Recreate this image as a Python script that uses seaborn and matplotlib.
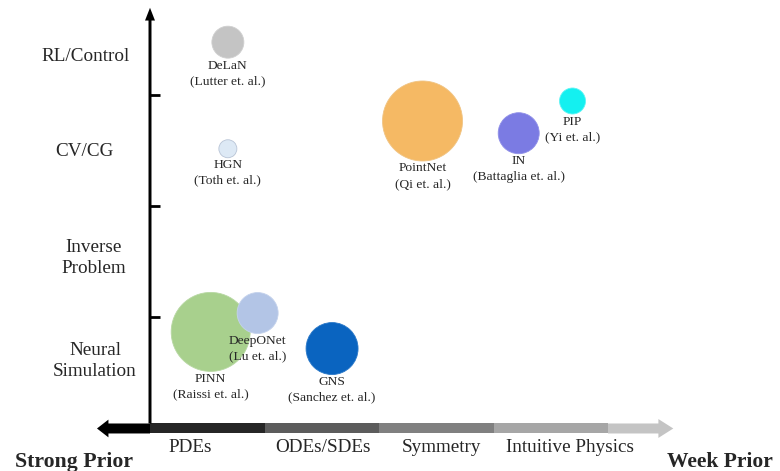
import pandas as pd
import matplotlib.pyplot as plt
from matplotlib.patches import FancyArrow
import seaborn as sns

sns.set_style("white")
plt.rcParams['font.family'] = ['Liberation Serif', 'DejaVu Serif']

# ===============================
# data
# ===============================
models = ["DeLaN", "HGN", "PointNet", "IN", "PIP", "PINN", "DeepONet", "GNS"]
authors = ["(Lutter et. al.)", "(Toth et. al.)", "(Qi et. al.)", "(Battaglia et. al.)",
           "(Yi et. al.)", "(Raissi et. al.)", "(Lu et. al.)", "(Sanchez et. al.)"]
prior_x = [0.68, 0.68, 2.38, 3.22, 3.69, 0.53, 0.94, 1.59]
field_y = [3.48, 2.52, 2.77, 2.66, 2.95, 0.87, 1.04, 0.72]
bubble_r = [16, 9, 40, 20.5, 13, 39.5, 20.5, 26]
bubble_colors = ["#c4c4c4", "#dde9f5", "#f5b964", "#7b7be3",
                 "#14f0f0", "#a8d08d", "#b3c5e6", "#0a64c0"]

fields = ["Neural\nSimulation", "Inverse\nProblem", "CV/CG", "RL/Control"]
priors = ["PDEs", "ODEs/SDEs", "Symmetry", "Intuitive Physics"]
prior_colors = ["#262626", "#5c5c5c", "#808080", "#a6a6a6"]

df = pd.DataFrame({"model": models, "author": authors, "x": prior_x,
                   "y": field_y, "r": bubble_r})
# radius (px) -> marker area (pt^2)
df["area"] = (2 * df["r"] * 0.72) ** 2

fig = plt.figure(figsize=(7.8, 4.71), dpi=100)
ax = fig.add_axes([0, 0, 1, 1])
ax.set_xlim(-1.310, 5.502)
ax.set_ylim(-0.383, 3.860)
ax.axis("off")

# ===============================
# prior bar (x axis)
# ===============================
for i, c in enumerate(prior_colors):
    ax.barh(0, 1, left=i, height=0.09, color=c, linewidth=0, zorder=2)
ax.add_patch(FancyArrow(0, 0, -0.463, 0, width=0.09, head_width=0.16,
                        head_length=0.1, length_includes_head=True,
                        color="black", lw=0, zorder=2))
ax.add_patch(FancyArrow(4, 0, 0.57, 0, width=0.09, head_width=0.17,
                        head_length=0.13, length_includes_head=True,
                        color="#c4c4c4", lw=0, zorder=2))

# vertical axis
ax.add_patch(FancyArrow(0, 0.045, 0, 3.745, width=0.026, head_width=0.087,
                        head_length=0.115, length_includes_head=True,
                        color="black", lw=0, zorder=3))
for k in [1, 2, 3]:
    ax.plot([0, 0.087], [k, k], color="black", lw=2, solid_capstyle="butt")

# category labels
field_pos = [(-0.48, 0.608), (-0.489, 1.536), (-0.576, 2.495), (-0.559, 3.355)]
for name, (fx, fy) in zip(fields, field_pos):
    ax.text(fx, fy, name, ha="center", va="center", fontsize=13.8, linespacing=1.25)

prior_pos = [0.349, 1.507, 2.55, 3.668]
for name, px in zip(priors, prior_pos):
    ax.text(px, -0.212, name, ha="center", va="baseline", fontsize=13.8)

ax.text(-1.179, -0.347, "Strong Prior", ha="left", va="baseline",
        fontsize=15.7, fontweight="bold")
ax.text(4.515, -0.347, "Week Prior", ha="left", va="baseline",
        fontsize=15.5, fontweight="bold")

# ===============================
# bubbles
# ===============================
edge = ["#d0d0d0", "#b8c4d6", "#f0c484", "#9090e8",
        "#60f4f4", "#b8d8a4", "#c4d2ec", "#2a78c8"]
sns.scatterplot(data=df, x="x", y="y", hue="model", palette=dict(zip(models, bubble_colors)),
                size="area", sizes=(df["area"].min(), df["area"].max()),
                edgecolor=edge, linewidth=0.6, alpha=1, legend=False, ax=ax, zorder=4)
ax.set_xlim(-1.310, 5.502)
ax.set_ylim(-0.383, 3.860)

for _, row in df.iterrows():
    off = row["r"] * 0.72
    ax.annotate(row["model"], (row["x"], row["y"]), xytext=(0, -off - 7.5 * 0.72),
                textcoords="offset points", ha="center", va="center", fontsize=9.7, zorder=5)
    ax.annotate(row["author"], (row["x"], row["y"]), xytext=(0, -off - 23 * 0.72),
                textcoords="offset points", ha="center", va="center", fontsize=9.7, zorder=5)

plt.savefig("out.png", dpi=100)
